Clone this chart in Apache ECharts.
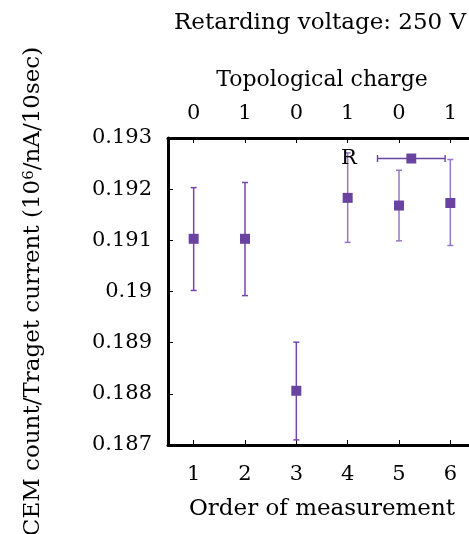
<!DOCTYPE html>
<html>
<head>
<meta charset="utf-8">
<script src="https://cdn.jsdelivr.net/npm/echarts@6/dist/echarts.min.js"></script>
<style>
  html, body { margin: 0; padding: 0; background: #fff; }
  #mychart { width: 469px; height: 534px; }
</style>
</head>
<body>
<div id="mychart"></div>
<script>
"use strict";
// measurement order (bottom axis) and topological charge (top axis)
const order = ['1', '2', '3', '4', '5', '6'];
const charge = ['0', '1', '0', '1', '0', '1'];
// CEM count / target current
const ratio = [0.19103, 0.19103, 0.18806, 0.19183, 0.19168, 0.19173];
const errLow = [0.19002, 0.18992, 0.18710, 0.19096, 0.19099, 0.19090];
const errHigh = [0.19203, 0.19213, 0.18901, 0.19271, 0.19237, 0.19258];

const FONT = 'DejaVu Serif';
const MARK = '#6a42a0';
const ERR_DARK = '#7646ae';
const ERR_LIGHT = '#9878c4';

const container = document.getElementById('mychart');
const myChart = echarts.init(container);

function renderErr(params, api) {
    const x = api.value(0);
    const top = api.coord([x, api.value(2)]);
    const bot = api.coord([x, api.value(1)]);
    const stroke = params.dataIndex < 3 ? ERR_DARK : ERR_LIGHT;
    const style = { stroke: stroke, lineWidth: 1.5 };
    const cap = 3;
    return {
        type: 'group',
        children: [
            { type: 'line', shape: { x1: top[0], y1: top[1], x2: bot[0], y2: bot[1] }, style },
            { type: 'line', shape: { x1: top[0] - cap, y1: top[1], x2: top[0] + cap, y2: top[1] }, style },
            { type: 'line', shape: { x1: bot[0] - cap, y1: bot[1], x2: bot[0] + cap, y2: bot[1] }, style }
        ]
    };
}

const axisLine = { show: true, lineStyle: { color: '#000', width: 3 } };
const axisTick = { show: true, inside: true, length: 5, alignWithLabel: true, lineStyle: { color: '#000', width: 1 } };
const nameStyle = { fontFamily: FONT, fontSize: 23, color: '#000' };

const option = {
    animation: false,
    title: {
        text: 'Retarding voltage: 250 V',
        left: 169,
        top: 7,
        textStyle: { fontFamily: FONT, fontWeight: 'normal', fontSize: 23, color: '#000' }
    },
    legend: {
        data: [{
            name: 'R',
            icon: 'path://M0,4.3h70v1.4h-70z M0,1.5h1.4v7h-1.4z M68.6,1.5h1.4v7h-1.4z M30,0h10v10h-10z'
        }],
        left: 336,
        top: 143,
        align: 'right',
        itemWidth: 69,
        itemHeight: 10,
        textStyle: { fontFamily: FONT, fontSize: 21, color: '#000', padding: [5, 15, 0, 0] }
    },
    grid: { left: 168, width: 308, top: 138, bottom: 89, containLabel: false, outerBoundsMode: 'none' },
    xAxis: [
        {
            type: 'category',
            data: order,
            position: 'bottom',
            boundaryGap: true,
            name: 'Order of measurement',
            nameLocation: 'middle',
            nameGap: 53,
            nameTextStyle: nameStyle,
            axisLine,
            axisTick,
            axisLabel: { fontFamily: FONT, fontSize: 21, color: '#000', margin: 19 },
            splitLine: { show: false }
        },
        {
            type: 'category',
            data: charge,
            position: 'top',
            boundaryGap: true,
            name: 'Topological charge',
            nameLocation: 'middle',
            nameGap: 47,
            nameTextStyle: { fontFamily: FONT, fontSize: 22, color: '#000' },
            axisLine,
            axisTick,
            axisLabel: { fontFamily: FONT, fontSize: 21, color: '#000', margin: 14 },
            splitLine: { show: false }
        }
    ],
    yAxis: {
        type: 'value',
        min: 0.187,
        max: 0.193,
        interval: 0.001,
        name: 'CEM count/Traget current (10{sup|6}/nA/10sec)',
        nameLocation: 'middle',
        nameGap: 123,
        nameTextStyle: {
            fontFamily: FONT, fontSize: 23, color: '#000',
            rich: { sup: { fontFamily: FONT, fontSize: 15, color: '#000', verticalAlign: 'top', lineHeight: 15 } }
        },
        axisLine,
        axisTick: { show: true, inside: true, length: 5, lineStyle: { color: '#000', width: 1 } },
        axisLabel: {
            fontFamily: FONT, fontSize: 21, color: '#000', margin: 16,
            formatter: v => String(+v.toFixed(3))
        },
        splitLine: { show: false }
    },
    series: [
        {
            type: 'custom',
            name: 'err',
            renderItem: renderErr,
            data: order.map((_, i) => [i, errLow[i], errHigh[i]]),
            z: 2
        },
        {
            type: 'scatter',
            name: 'R',
            symbol: 'rect',
            symbolSize: 10,
            itemStyle: { color: MARK, opacity: 1 },
            data: order.map((o, i) => [i, ratio[i]]),
            z: 3
        }
    ]
};
myChart.setOption(option);
</script>
</body>
</html>
